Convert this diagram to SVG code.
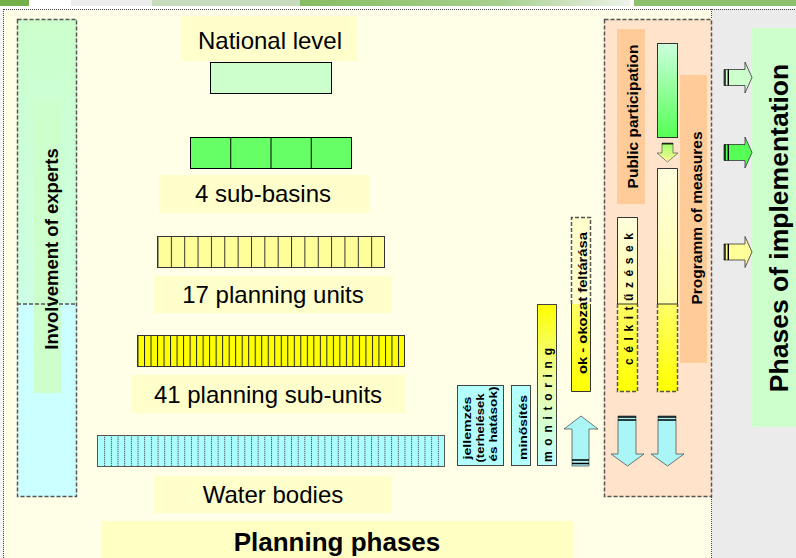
<svg xmlns="http://www.w3.org/2000/svg" width="796" height="558" viewBox="0 0 796 558">
<defs>
<style>
text{font-family:"Liberation Sans",Arial,sans-serif;fill:#000}
.lbl{font-size:24px;text-anchor:middle}
.b{font-weight:bold}
.mid{text-anchor:middle}
.tb{fill:#ffffcc}
.dash{fill:none;stroke:#555;stroke-width:1.5;stroke-dasharray:4 2}
.sol{fill:none;stroke:#333;stroke-width:1}
.cy{fill:#aaf6f6;stroke:#555;stroke-width:0.8}
.bar{stroke:#000;fill:none}
</style>
<linearGradient id="gExpTop" x1="0" y1="0" x2="0" y2="1"><stop offset="0" stop-color="#ccffcc"/><stop offset="1" stop-color="#ccffe4"/></linearGradient>
<linearGradient id="gGreen" x1="0" y1="0" x2="0" y2="1"><stop offset="0" stop-color="#ccffdd"/><stop offset="1" stop-color="#55ff55"/></linearGradient>
<linearGradient id="gSmall" x1="0" y1="0" x2="0" y2="1"><stop offset="0" stop-color="#99ff66"/><stop offset="1" stop-color="#ffff99"/></linearGradient>
<linearGradient id="gPale" x1="0" y1="0" x2="0" y2="1"><stop offset="0" stop-color="#ffffdd"/><stop offset="1" stop-color="#ffffaa"/></linearGradient>
<linearGradient id="gYel" x1="0" y1="0" x2="0" y2="1"><stop offset="0" stop-color="#ffff66"/><stop offset="1" stop-color="#ffff00"/></linearGradient>
<linearGradient id="gMon" x1="0" y1="0" x2="0" y2="1"><stop offset="0" stop-color="#ffff00"/><stop offset="0.5" stop-color="#eeffaa"/><stop offset="1" stop-color="#bbffff"/></linearGradient>
<linearGradient id="gTop" x1="0" y1="0" x2="1" y2="0"><stop offset="0" stop-color="#86bd62"/><stop offset="0.6" stop-color="#a6cf8c"/><stop offset="1" stop-color="#eef3ea"/></linearGradient>
<pattern id="p17" patternUnits="userSpaceOnUse" x="157.5" y="0" width="13.353" height="10"><rect x="0" y="0" width="1" height="10" fill="#333"/></pattern>
<pattern id="p41" patternUnits="userSpaceOnUse" x="137.5" y="0" width="6.512" height="10"><rect x="0" y="0" width="1" height="10" fill="#222"/></pattern>
<pattern id="pWB" patternUnits="userSpaceOnUse" x="97.5" y="435" width="6.673" height="2"><rect x="0" y="0" width="1" height="1.3" fill="#556"/></pattern>
</defs>

<!-- background -->
<rect x="0" y="0" width="796" height="558" fill="#f3f3f3"/>
<g id="topbar">
<rect x="0" y="0" width="796" height="9" fill="#ffffff"/>
<rect x="0" y="0" width="29" height="6" fill="#74b04a"/>
<rect x="71" y="0" width="81" height="6" fill="#ececec"/>
<rect x="152" y="0" width="148" height="6" fill="#c6dcbc"/>
<rect x="300" y="0" width="330" height="6" fill="url(#gTop)"/>
<rect x="634" y="0" width="162" height="6" fill="#8cc06c"/>
</g>
<rect x="4" y="9" width="708" height="549" fill="#fffee6"/>
<rect x="712" y="9" width="84" height="549" fill="#ebebeb"/>
<path d="M3.5,9 V558 M4,9.5 H796 M711.5,9 V558" stroke="#444" stroke-width="1" stroke-dasharray="1 1" fill="none"/>

<!-- Involvement of experts -->
<g id="experts">
<rect x="17" y="19" width="60" height="285" fill="url(#gExpTop)"/>
<rect x="17" y="304" width="60" height="193" fill="#ccffff"/>
<rect x="34" y="100" width="27" height="293" fill="#ccffcc"/>
<rect x="17.5" y="19.5" width="59" height="477" class="dash"/>
<line x1="17" y1="304" x2="77" y2="304" class="dash"/>
<text transform="translate(58,249) rotate(-90)" class="b mid" font-size="18.5">Involvement of experts</text>
</g>

<!-- levels -->
<g id="national">
<rect x="182" y="16" width="175" height="45" class="tb"/>
<text x="270" y="49" class="lbl">National level</text>
<rect x="210.5" y="62.5" width="121" height="31" fill="#ccffcc" stroke="#000"/>
</g>
<g id="subbasins">
<rect x="190.5" y="137.5" width="161" height="31" fill="#66ff66" stroke="#000"/>
<path d="M230.75,137.5 V168.5 M271,137.5 V168.5 M311.25,137.5 V168.5" stroke="#000"/>
<rect x="159" y="175" width="210" height="38" class="tb"/>
<text x="263" y="202" class="lbl">4 sub-basins</text>
</g>
<g id="planning-units">
<rect x="157.5" y="236.5" width="227" height="31" fill="#ffff99" stroke="#333"/>
<rect x="158" y="237" width="226" height="30" fill="url(#p17)"/>
<rect x="154" y="276" width="238" height="37" class="tb"/>
<text x="273" y="303" class="lbl">17 planning units</text>
</g>
<g id="planning-subunits">
<rect x="137.5" y="335.5" width="267" height="31" fill="#ffff00" stroke="#333"/>
<rect x="138" y="336" width="266" height="30" fill="url(#p41)"/>
<rect x="132" y="375" width="273" height="38" class="tb"/>
<text x="268" y="403" class="lbl">41 planning sub-units</text>
</g>
<g id="water-bodies">
<rect x="97.5" y="435.5" width="347" height="31" fill="#aaffff" stroke="#555"/>
<rect x="99" y="436" width="345" height="30" fill="url(#pWB)"/>
<rect x="154" y="476" width="238" height="37" class="tb"/>
<text x="273" y="503" class="lbl">Water bodies</text>
</g>
<g id="planning-phases">
<rect x="102" y="521" width="471" height="37" fill="#ffffc4"/>
<text x="337" y="551" class="b mid" font-size="26">Planning phases</text>
</g>

<!-- small steps -->
<g id="jellemzes">
<rect x="457.5" y="385.5" width="46" height="80" fill="#b3ffff" stroke="#444"/>
<text transform="translate(471,428) rotate(-90)" class="b mid" font-size="11" textLength="63" lengthAdjust="spacingAndGlyphs">jellemzés</text>
<text transform="translate(484,428) rotate(-90)" class="b mid" font-size="11" textLength="69" lengthAdjust="spacingAndGlyphs">(terhelések</text>
<text transform="translate(497,424) rotate(-90)" class="b mid" font-size="11" textLength="75" lengthAdjust="spacingAndGlyphs">és hatások)</text>
</g>
<g id="minosites">
<rect x="511.5" y="385.5" width="19" height="80" fill="#b3ffff" stroke="#444"/>
<text transform="translate(527,427.5) rotate(-90)" class="b mid" font-size="11" textLength="65" lengthAdjust="spacingAndGlyphs">minősítés</text>
</g>
<g id="monitoring">
<rect x="537.5" y="304.5" width="19" height="161" fill="url(#gMon)" stroke="#444"/>
<text transform="translate(552,405) rotate(-90)" class="b mid" font-size="12" textLength="114" lengthAdjust="spacing">m o n i t o r i n g</text>
</g>
<g id="ok-okozat">
<rect x="571.5" y="217.5" width="19" height="87" fill="#ffffcc"/>
<rect x="571.5" y="304" width="19" height="87.5" fill="url(#gYel)"/>
<path d="M571.5,304 V217.5 H590.5 V304" class="dash" stroke-width="1.2"/>
<path d="M571.5,304 V391.5 H590.5 V304" class="sol"/>
<text transform="translate(587,303) rotate(-90)" class="b mid" font-size="13" textLength="142" lengthAdjust="spacingAndGlyphs">ok - okozat feltárása</text>
</g>

<!-- public participation box -->
<g id="public-participation">
<rect x="604" y="19" width="108" height="478" fill="#ffe3cb"/>
<rect x="604.5" y="19.5" width="107" height="477" class="dash"/>
<rect x="617" y="29" width="28" height="175" fill="#ffcc99"/>
<text transform="translate(638,116.5) rotate(-90)" class="b mid" font-size="15.5">Public participation</text>
</g>
<g id="programm">
<rect x="680" y="75" width="27" height="288" fill="#ffcc99"/>
<text transform="translate(702,218) rotate(-90)" class="b mid" font-size="15.5">Programm of measures</text>
</g>
<g id="green-bar">
<rect x="657.5" y="43.5" width="20" height="94" fill="url(#gGreen)" stroke="#333"/>
</g>
<g id="tall-bar">
<rect x="657.5" y="168.5" width="20" height="135.5" fill="url(#gPale)"/>
<rect x="657.5" y="304" width="20" height="87.5" fill="url(#gYel)"/>
<path d="M657.5,304 V168.5 H677.5 V304 Z" class="sol"/>
<path d="M657.5,304 V391.5 H677.5 V304" class="dash" stroke-width="1.2"/>
</g>
<g id="celkituzesek">
<rect x="617.5" y="217.5" width="20" height="86.5" fill="url(#gPale)"/>
<rect x="617.5" y="304" width="20" height="87.5" fill="url(#gYel)"/>
<path d="M617.5,304 V217.5 H637.5 V304 Z" class="sol"/>
<path d="M617.5,304 V391.5 H637.5 V304" class="dash" stroke-width="1.2"/>
<text transform="translate(633,299) rotate(-90)" class="b mid" font-size="12" textLength="132" lengthAdjust="spacing">c é l k i t ű z é s e k</text>
</g>

<!-- implementation -->
<g id="implementation">
<rect x="752" y="28" width="44" height="399" fill="#ccffcc"/>
<text transform="translate(788,228) rotate(-90)" class="b mid" font-size="26.5">Phases of implementation</text>
</g>

<!-- arrows -->
<g id="connectors">
<path d="M662,143 H673 V153 H678 L667.5,162 L657,153 H662 Z" fill="url(#gSmall)" stroke="#666" stroke-width="0.8"/>
<path d="M662,143.8 H673" class="bar" stroke-width="1.2"/>
<path d="M581,416 L598,429 H589 V466 H572 V429 H564 Z" class="cy"/>
<path d="M572,460 H589 M572,463.5 H589" class="bar" stroke-width="1.4"/>
<path d="M618,416 H636 V454 H644 L627.5,466 L611,454 H618 Z" class="cy"/>
<path d="M618,417 H636 M618,420 H636" class="bar" stroke-width="1.4"/>
<path d="M658,416 H676 V454 H684 L667.5,466 L651,454 H658 Z" class="cy"/>
<path d="M658,417 H676 M658,420 H676" class="bar" stroke-width="1.4"/>
<path d="M724,69.5 H745 V62 L752,77.5 L745,93 V85.5 H724 Z" fill="#ccffcc" stroke="#333" stroke-width="0.8"/>
<path d="M725,69.5 V85.5 M728.3,69.5 V85.5" class="bar" stroke-width="1.4"/>
<path d="M724,144.5 H745 V137 L752,152.5 L745,168 V160.5 H724 Z" fill="#55ff55" stroke="#333" stroke-width="0.8"/>
<path d="M725,144.5 V160.5 M728.3,144.5 V160.5" class="bar" stroke-width="1.4"/>
<path d="M724,244 H745 V236.5 L752,252 L745,267.5 V260 H724 Z" fill="#ffff99" stroke="#333" stroke-width="0.8"/>
<path d="M725,244 V260 M728.3,244 V260" class="bar" stroke-width="1.4"/>
</g>
</svg>
